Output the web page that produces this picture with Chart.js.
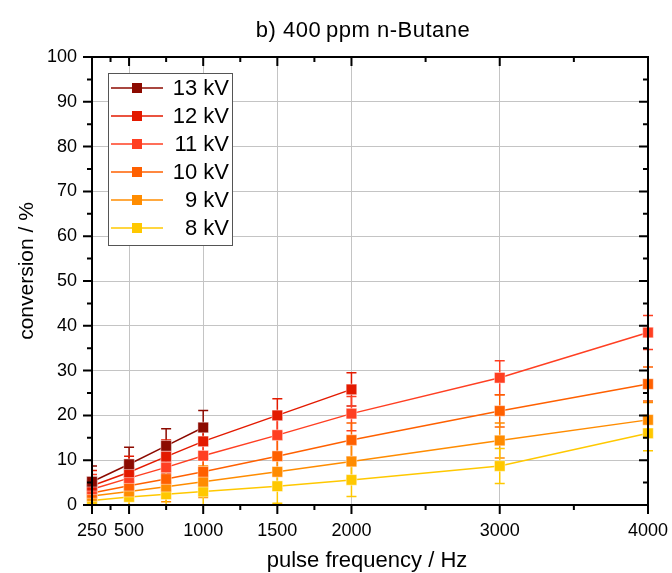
<!DOCTYPE html>
<html>
<head>
<meta charset="utf-8">
<script src="https://cdn.jsdelivr.net/npm/chart.js@4/dist/chart.umd.min.js"></script>
<style>
  html, body { margin: 0; padding: 0; background: #fff; }
  #wrap { width: 672px; height: 573px; }
</style>
</head>
<body>
<div id="wrap"><canvas id="convChart" width="672" height="573"></canvas></div>
<script>
// pulse frequencies (Hz)
const freq = [250, 500, 750, 1000, 1500, 2000, 3000, 4000];

// conversion in % per voltage (series are shorter where no data was taken)
const kv13 = [5.2, 9.1, 13.2, 17.3];
const kv12 = [4.3, 7.3, 10.8, 14.2, 20.0, 25.8];
const kv11 = [3.5, 6.0, 8.4, 11.0, 15.6, 20.4, 28.4, 38.5];
const kv10 = [2.7, 4.3, 5.8, 7.4, 10.9, 14.5, 21.0, 27.0];
const kv9  = [2.0, 3.0, 4.1, 5.2, 7.4, 9.7, 14.4, 19.0];
const kv8  = [1.0, 1.8, 2.4, 3.0, 4.2, 5.6, 8.7, 16.0];

// error bars (+/- %)
const err13 = [3.5, 3.8, 3.8, 3.8];
const err12 = [3.4, 3.6, 3.7, 3.8, 3.7, 3.7];
const err11 = [3.3, 3.5, 3.6, 3.7, 3.8, 3.8, 3.8, 3.8];
const err10 = [3.2, 3.4, 3.5, 3.6, 3.7, 3.8, 3.6, 3.8];
const err9  = [3.0, 3.2, 3.4, 3.5, 3.7, 3.8, 3.9, 3.9];
const err8  = [2.8, 3.0, 3.2, 3.4, 3.8, 3.7, 3.9, 3.9];

const seriesLabels = ["13 kV", "12 kV", "11 kV", "10 kV", "9 kV", "8 kV"];
const seriesColors = ["#8c0a00", "#e31a00", "#ff3f22", "#ff6000", "#ff8c00", "#ffc800"];

const xMajor = [250, 500, 1000, 1500, 2000, 3000, 4000];
const xMinor = [375, 750, 1250, 1750, 2500, 3500];

const allValues = [kv13, kv12, kv11, kv10, kv9, kv8];
const allErrors = [err13, err12, err11, err10, err9, err8];

const FONT = "'Liberation Sans', Arial, sans-serif";

const datasets = allValues.map((vals, i) => ({
  label: seriesLabels[i],
  data: vals.map((v, j) => ({ x: freq[j], y: v })),
  errors: allErrors[i],
  borderColor: seriesColors[i],
  backgroundColor: seriesColors[i],
  borderWidth: 1.5,
  pointStyle: "rect",
  pointRadius: 7.5,
  pointHoverRadius: 7.5,
  pointBackgroundColor: seriesColors[i],
  pointBorderColor: "rgba(255,255,255,0.45)",
  pointBorderWidth: 1,
  clip: false
}));

// error bars under the lines
const errorBars = {
  id: "errorBars",
  beforeDatasetsDraw(chart) {
    const { ctx, chartArea, scales } = chart;
    ctx.save();
    ctx.beginPath();
    ctx.rect(chartArea.left, chartArea.top - 10, chartArea.right - chartArea.left + 10, chartArea.bottom - chartArea.top + 10);
    ctx.clip();
    chart.data.datasets.forEach(ds => {
      ctx.strokeStyle = ds.borderColor;
      ctx.lineWidth = 1.5;
      ds.data.forEach((p, j) => {
        const e = ds.errors[j];
        const x = scales.x.getPixelForValue(p.x);
        const yTop = scales.y.getPixelForValue(p.y + e);
        const yBot = scales.y.getPixelForValue(p.y - e);
        ctx.beginPath();
        ctx.moveTo(x, yTop); ctx.lineTo(x, yBot);
        ctx.moveTo(x - 5, yTop); ctx.lineTo(x + 5, yTop);
        ctx.moveTo(x - 5, yBot); ctx.lineTo(x + 5, yBot);
        ctx.stroke();
      });
    });
    ctx.restore();
  }
};

// frame, mirrored ticks, titles and legend box
const frame = {
  id: "frame",
  afterDraw(chart) {
    const { ctx, chartArea: a, scales } = chart;
    ctx.save();
    ctx.strokeStyle = "#000";
    ctx.lineWidth = 2;
    ctx.strokeRect(a.left, a.top, a.right - a.left, a.bottom - a.top);

    ctx.beginPath();
    const xt = (v, len) => {
      const x = scales.x.getPixelForValue(v);
      ctx.moveTo(x, a.bottom); ctx.lineTo(x, a.bottom + len);
      ctx.moveTo(x, a.top); ctx.lineTo(x, a.top + len);
    };
    xMajor.forEach(v => xt(v, 9));
    xMinor.forEach(v => xt(v, 5));
    for (let v = 0; v <= 100; v += 5) {
      const y = scales.y.getPixelForValue(v);
      const len = v % 10 === 0 ? 9 : 5;
      ctx.moveTo(a.left, y); ctx.lineTo(a.left - len, y);
      ctx.moveTo(a.right, y); ctx.lineTo(a.right - len, y);
    }
    ctx.stroke();

    ctx.fillStyle = "#000";
    ctx.textAlign = "center";
    ctx.textBaseline = "alphabetic";

    // title
    ctx.font = "22px " + FONT;
    ctx.letterSpacing = "0.5px";
    ctx.fillText("b) 400\u2009ppm n-Butane", 363, 37);
    ctx.letterSpacing = "0px";

    // axis titles
    ctx.font = "22px " + FONT;
    ctx.fillText("pulse frequency / Hz", 367, 567);
    ctx.save();
    ctx.translate(33, 271);
    ctx.rotate(-Math.PI / 2);
    ctx.font = "21px " + FONT;
    ctx.fillText("conversion / %", 0, 0);
    ctx.restore();

    // legend
    const lx = 108, ly = 73, lw = 124, lh = 172;
    ctx.fillStyle = "#fff";
    ctx.fillRect(lx, ly, lw, lh);
    ctx.strokeStyle = "#555";
    ctx.lineWidth = 1;
    ctx.strokeRect(lx + 0.5, ly + 0.5, lw, lh);
    ctx.font = "22px " + FONT;
    ctx.textAlign = "right";
    ctx.textBaseline = "middle";
    seriesLabels.forEach((lab, i) => {
      const y = 88 + i * 28;
      ctx.strokeStyle = seriesColors[i];
      ctx.lineWidth = 1.5;
      ctx.beginPath();
      ctx.moveTo(111, y); ctx.lineTo(163, y);
      ctx.stroke();
      ctx.fillStyle = seriesColors[i];
      ctx.fillRect(132, y - 5, 10, 10);
      ctx.fillStyle = "#000";
      ctx.fillText(lab, 229, y + 1);
    });
    ctx.restore();
  }
};

new Chart(document.getElementById("convChart"), {
  type: "line",
  data: { datasets: datasets },
  plugins: [errorBars, frame],
  options: {
    responsive: false,
    animation: false,
    devicePixelRatio: 1,
    layout: { padding: { top: 57, right: 24, left: 0, bottom: 0 } },
    plugins: {
      legend: { display: false },
      tooltip: { enabled: false }
    },
    scales: {
      x: {
        type: "linear",
        min: 250,
        max: 4000,
        afterBuildTicks: scale => {
          scale.ticks = xMajor.map(v => ({ value: v }));
        },
        afterFit: scale => {
          scale.height = 68;
          scale.paddingLeft = 0;
          scale.paddingRight = 0;
        },
        ticks: {
          color: "#000",
          font: { family: FONT, size: 18 },
          padding: 15,
          maxRotation: 0,
          autoSkip: false,
          callback: v => String(v)
        },
        grid: {
          drawTicks: false,
          color: ctx => (ctx.tick && (ctx.tick.value === 250 || ctx.tick.value === 4000)) ? "rgba(0,0,0,0)" : "#c4c4c4",
          lineWidth: 1
        },
        border: { display: false }
      },
      y: {
        min: 0,
        max: 100,
        afterFit: scale => {
          scale.width = 92;
          scale.paddingTop = 0;
          scale.paddingBottom = 0;
        },
        ticks: {
          stepSize: 10,
          color: "#000",
          font: { family: FONT, size: 18 },
          padding: 15
        },
        grid: {
          drawTicks: false,
          color: ctx => (ctx.tick && (ctx.tick.value === 0 || ctx.tick.value === 100)) ? "rgba(0,0,0,0)" : "#c4c4c4",
          lineWidth: 1
        },
        border: { display: false }
      }
    }
  }
});
</script>
</body>
</html>
